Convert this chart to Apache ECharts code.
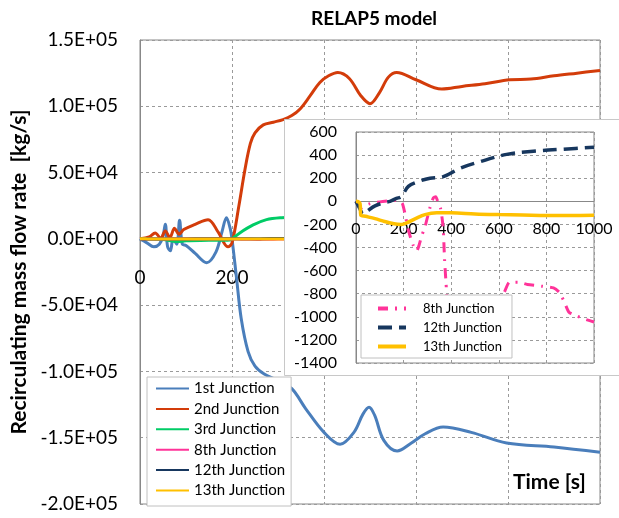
<!DOCTYPE html>
<html>
<head>
<meta charset="utf-8">
<script src="https://cdn.jsdelivr.net/npm/echarts@6/dist/echarts.min.js"></script>
<style>
  html, body { margin: 0; padding: 0; background: #fff; }
  #chart { width: 619px; height: 518px; }
</style>
</head>
<body>
<div id="chart"></div>
<script>
// series values as [time s, flow kg/s]
var junction1 = [[0,0],[15,-3000],[30,-6000],[42,-4000],[50,2000],[55,11000],[60,-6000],[66,-9000],[72,0],[80,-4000],[86,14000],[92,-4000],[100,-5000],[120,-11000],[145,-18000],[165,-10000],[178,5000],[188,16000],[196,8000],[200,0],[210,-30000],[220,-60000],[235,-85000],[250,-96000],[270,-102000],[300,-107000],[330,-113000],[360,-128000],[400,-146000],[435,-155000],[465,-146000],[485,-132000],[498,-127000],[510,-133000],[530,-152000],[559,-160000],[590,-154000],[620,-147000],[659,-142000],[720,-146000],[797,-154000],[900,-157000],[1000,-161000]];
var junction2 = [[0,0],[20,1500],[33,4500],[45,500],[55,6000],[65,1000],[75,8000],[85,3500],[95,7000],[120,11000],[148,14500],[170,5000],[191,-6000],[200,-3000],[215,25000],[228,52000],[240,72000],[250,80000],[268,86000],[290,88000],[311,90000],[330,93000],[348,98000],[370,108000],[391,118000],[410,123000],[430,125500],[455,121000],[480,108000],[500,102000],[520,110000],[540,122000],[558,125500],[600,120000],[656,113000],[700,115000],[750,117000],[804,120000],[850,120500],[900,123000],[950,125000],[1000,127000]];
var junction3 = [[0,0],[50,-500],[80,-2000],[100,-1500],[150,-1000],[190,-1000],[200,0],[217,4500],[246,10500],[275,14500],[308,16000],[350,16500],[500,16500],[1000,16500]];
var junction8 = [[0,0],[10,-30],[20,-60],[35,-40],[60,-20],[100,-5],[140,5],[180,10],[195,-20],[205,-100],[220,-250],[240,-380],[255,-430],[265,-380],[276,-300],[290,-220],[310,-60],[325,30],[335,40],[345,-10],[355,-60],[362,-150],[367,-250],[372,-500],[378,-700],[385,-900],[400,-1050],[450,-1100],[500,-1100],[560,-1050],[600,-900],[625,-780],[645,-700],[680,-700],[720,-720],[780,-735],[830,-750],[855,-790],[875,-870],[895,-960],[930,-995],[960,-1020],[1000,-1045]];
var junction12 = [[0,0],[15,-60],[30,-110],[50,-80],[80,-40],[120,-10],[143,0],[170,25],[190,40],[220,129],[260,170],[311,200],[367,214],[437,286],[521,343],[633,406],[745,434],[871,451],[1000,469]];
var junction13 = [[0,0],[10,-5],[17,-20],[20,-120],[40,-130],[80,-150],[120,-175],[160,-195],[190,-200],[215,-185],[250,-150],[290,-115],[340,-100],[400,-100],[500,-110],[600,-115],[700,-118],[800,-122],[900,-122],[1000,-120]];

var names = ['1st Junction','2nd Junction','3rd Junction','8th Junction','12th Junction','13th Junction'];
var colors = ['#4A7EBB','#D33C0A','#00CC66','#FF3399','#17375E','#FFC000'];
var mainData = [junction1, junction2, junction3, junction8, junction12, junction13];
var insetNames = ['8th Junction','12th Junction','13th Junction'];
var insetData = [junction8, junction12, junction13];
var insetColors = ['#FF3399','#17375E','#FFC000'];
var insetDash = [[10,7,2,7],[14,7],'solid'];

var chart = echarts.init(document.getElementById('chart'));
var font = 'Lato';

function sci(v) {
  if (v === 0) return '0.0E+00';
  var e = Math.floor(Math.log10(Math.abs(v)) + 1e-9);
  var m = v / Math.pow(10, e);
  return m.toFixed(1) + 'E' + (e < 0 ? '-' : '+') + String(Math.abs(e)).padStart(2, '0');
}
function plain(v) { return String(v); }

var gridLine = { show: true, lineStyle: { color: '#9a9a9a', type: [3,3], width: 1 } };

var series = [];
names.forEach(function (n, i) {
  series.push({
    name: n, type: 'line', xAxisIndex: 0, yAxisIndex: 0,
    data: mainData[i], symbol: 'none', smooth: 0.35,
    lineStyle: { color: colors[i], width: 3 }, itemStyle: { color: colors[i] },
    z: 2
  });
});
insetNames.forEach(function (n, i) {
  series.push({
    name: n, type: 'line', xAxisIndex: 1, yAxisIndex: 1,
    data: insetData[i], symbol: 'none', smooth: i == 0 ? 0.2 : 0.35,
    lineStyle: { color: insetColors[i], width: i == 0 ? 3 : 3.5, type: insetDash[i] },
    itemStyle: { color: insetColors[i] },
    z: 10
  });
});

// main plot 40..504 px, zero at 150000/350000 of height; inset 132..363, zero at 600/2000
var mainZeroOffset = -464 * 200000 / 350000;
var insetZeroOffset = -231 * 1400 / 2000;

var option = {
  animation: false,
  backgroundColor: '#fff',
  title: {
    text: 'RELAP5 model', left: 311, top: 9, padding: 0,
    textStyle: { fontFamily: font, fontSize: 19, fontWeight: 'bold', color: '#000' }
  },
  grid: [
    { left: 140, right: 19, top: 40, bottom: 14, outerBoundsMode: 'none', containLabel: false,
      show: true, borderColor: '#888', borderWidth: 1, z: 0 },
    { left: 356, right: 25, top: 132, bottom: 155, outerBoundsMode: 'none', containLabel: false,
      show: true, borderColor: '#888', borderWidth: 1, z: 10 }
  ],
  xAxis: [
    {
      gridIndex: 0, type: 'value', min: 0, max: 1000, interval: 200,
      position: 'bottom', offset: mainZeroOffset,
      axisLine: { onZero: false, lineStyle: { color: '#888' } },
      axisTick: { show: false },
      axisLabel: { fontFamily: font, fontSize: 19, color: '#000', margin: 30, formatter: plain },
      splitLine: gridLine
    },
    {
      gridIndex: 1, type: 'value', min: 0, max: 1000, interval: 200, z: 10,
      position: 'bottom', offset: insetZeroOffset,
      axisLine: { onZero: false, lineStyle: { color: '#888' } },
      axisTick: { show: false },
      axisLabel: { fontFamily: font, fontSize: 16, color: '#000', margin: 20, formatter: plain },
      splitLine: gridLine
    }
  ],
  yAxis: [
    {
      gridIndex: 0, type: 'value', min: -200000, max: 150000, interval: 50000,
      name: 'Recirculating mass flow rate  [kg/s]', nameLocation: 'middle', nameGap: 106,
      nameTextStyle: { fontFamily: font, fontSize: 21, fontWeight: 'bold', color: '#000' },
      axisLine: { show: true, onZero: false, lineStyle: { color: '#888' } },
      axisTick: { show: false },
      axisLabel: { fontFamily: font, fontSize: 19, color: '#000', margin: 22, formatter: sci },
      splitLine: gridLine
    },
    {
      gridIndex: 1, type: 'value', min: -1400, max: 600, interval: 200, z: 10,
      axisLine: { show: true, onZero: false, lineStyle: { color: '#888' } },
      axisTick: { show: false },
      axisLabel: { fontFamily: font, fontSize: 16, color: '#000', margin: 19, formatter: plain },
      splitLine: gridLine
    }
  ],
  legend: [
    {
      data: names, orient: 'vertical', left: 147, top: 377,
      padding: [4, 6, 8, 8], itemWidth: 33, itemHeight: 14, itemGap: 5.4,
      itemStyle: { opacity: 0 },
      backgroundColor: '#fff', borderColor: '#c0c0c0', borderWidth: 1,
      textStyle: { fontFamily: font, fontSize: 15, color: '#000' },
      selectedMode: false, z: 20
    },
    {
      data: insetNames.map(function (n, i) {
        return { name: n, lineStyle: { type: insetDash[i], width: 4, color: insetColors[i] } };
      }),
      orient: 'vertical', left: 361, top: 295,
      padding: [7, 10, 5, 15], itemWidth: 28, itemHeight: 14, itemGap: 6,
      itemStyle: { opacity: 0 },
      backgroundColor: '#fff', borderColor: '#c0c0c0', borderWidth: 1,
      textStyle: { fontFamily: font, fontSize: 13, color: '#000', padding: [0, 0, 0, 12] },
      selectedMode: false, z: 20
    }
  ],
  graphic: [
    {
      type: 'rect', z: 5, silent: true,
      shape: { x: 284.5, y: 119.5, width: 340, height: 256 },
      style: { fill: '#fff', stroke: '#c8c8c8', lineWidth: 1 }
    },
    {
      type: 'text', z: 30, x: 513, y: 482,
      style: { text: 'Time [s]', fontFamily: font, fontSize: 21, fontWeight: 'bold', fill: '#000', align: 'left', verticalAlign: 'middle' }
    }
  ],
  series: series
};
chart.setOption(option);
</script>
</body>
</html>
